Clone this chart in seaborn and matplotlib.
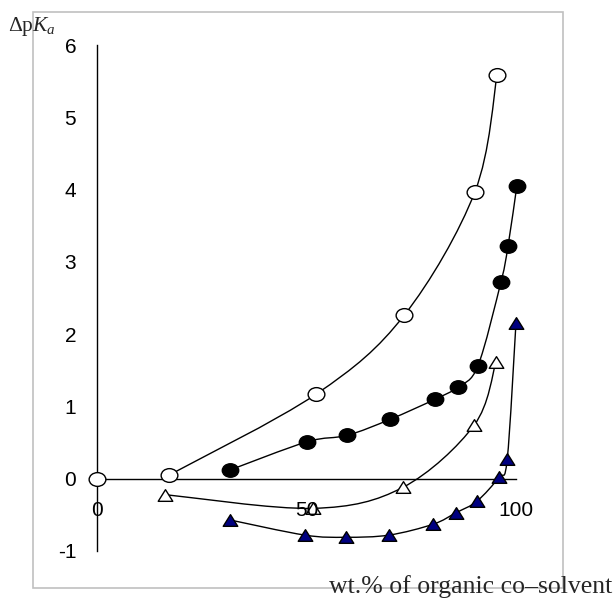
import matplotlib
matplotlib.use("Agg")
import matplotlib.pyplot as plt
from matplotlib.path import Path
from matplotlib.patches import PathPatch, Rectangle
from matplotlib.transforms import Affine2D
import numpy as np
import pandas as pd
import seaborn as sns

# ---- data ----
open_circle_x = [0, 17.2, 52.3, 73.3, 90.2, 95.5]
open_circle_y = [0.0, 0.05, 1.17, 2.26, 3.97, 5.59]

filled_circle_x = [31.7, 50.1, 59.7, 69.9, 80.7, 86.2, 90.9, 96.4, 98.1, 100.2]
filled_circle_y = [0.12, 0.51, 0.60, 0.82, 1.10, 1.27, 1.56, 2.72, 3.22, 4.05]

open_tri_x = [16.2, 51.6, 73.0, 90.0, 95.2]
open_tri_y = [-0.22, -0.41, -0.12, 0.74, 1.61]

filled_tri_x = [31.7, 49.6, 59.4, 69.7, 80.2, 85.7, 90.7, 95.9, 97.9, 100.0]
filled_tri_y = [-0.57, -0.78, -0.81, -0.78, -0.63, -0.47, -0.31, 0.02, 0.27, 2.16]

x_ticks = [0, 50, 100]
x_tick_labels = ["0", "50", "100"]
y_ticks = [-1, 0, 1, 2, 3, 4, 5, 6]
y_tick_labels = ["-1", "0", "1", "2", "3", "4", "5", "6"]

sns.set_style("white")
plt.rcParams["font.family"] = ["Liberation Sans", "DejaVu Sans"]
plt.rcParams["mathtext.fontset"] = "custom"
plt.rcParams["mathtext.rm"] = "Liberation Serif"
plt.rcParams["mathtext.it"] = "Liberation Serif:italic"

fig = plt.figure(figsize=(6.14, 5.98), dpi=100)
fig.patch.set_facecolor("white")
# outer chart-area border
fig.patches.append(Rectangle((33 / 614, 1 - 588 / 598), (563 - 33) / 614, (588 - 12) / 598,
                             transform=fig.transFigure, fill=False, edgecolor="#c0c0c0",
                             linewidth=1.2, zorder=0))

ax = fig.add_axes([97 / 614, 1 - 551 / 598, (516 - 97) / 614, (551 - 45) / 598])
ax.set_facecolor("none")


def smooth_path(xs, ys):
    """Excel-style smoothed line (Catmull-Rom as cubic Bezier segments) through the data."""
    pts = np.column_stack([xs, ys]).astype(float)
    n = len(pts)
    verts = [tuple(pts[0])]
    codes = [Path.MOVETO]
    for i in range(n - 1):
        p0 = pts[i - 1] if i > 0 else pts[i]
        p1 = pts[i]
        p2 = pts[i + 1]
        p3 = pts[i + 2] if i + 2 < n else pts[i + 1]
        c1 = p1 + (p2 - p0) / 6.0
        c2 = p2 - (p3 - p1) / 6.0
        verts += [tuple(c1), tuple(c2), tuple(p2)]
        codes += [Path.CURVE4, Path.CURVE4, Path.CURVE4]
    return Path(verts, codes)


curves = [
    (open_circle_x[1:], open_circle_y[1:]),
    (filled_circle_x, filled_circle_y),
    (open_tri_x, open_tri_y),
    (filled_tri_x, filled_tri_y),
]
for cx, cy in curves:
    ax.add_patch(PathPatch(smooth_path(cx, cy), fill=False, edgecolor="black",
                           linewidth=1.0, clip_on=False, zorder=2))

# slightly flattened marker shapes, as in the reference
ellipse = Path.unit_circle().transformed(Affine2D().scale(1.0, 0.82))
flat_tri = Path([(0, 0.8), (-1, -0.8), (1, -0.8), (0, 0.8)],
                [Path.MOVETO, Path.LINETO, Path.LINETO, Path.CLOSEPOLY])

df_oc = pd.DataFrame({"x": open_circle_x, "y": open_circle_y})
df_fc = pd.DataFrame({"x": filled_circle_x, "y": filled_circle_y})
df_ot = pd.DataFrame({"x": open_tri_x, "y": open_tri_y})
df_ft = pd.DataFrame({"x": filled_tri_x, "y": filled_tri_y})

common = dict(ax=ax, legend=False, clip_on=False, zorder=4)
sns.scatterplot(data=df_oc, x="x", y="y", marker=ellipse, s=145, color="white",
                edgecolor="black", linewidth=1.0, **common)
sns.scatterplot(data=df_fc, x="x", y="y", marker=ellipse, s=140, color="black",
                edgecolor="black", linewidth=1.0, **common)
sns.scatterplot(data=df_ot, x="x", y="y", marker=flat_tri, s=110, color="white",
                edgecolor="black", linewidth=1.0, **common)
sns.scatterplot(data=df_ft, x="x", y="y", marker=flat_tri, s=110, color="#000080",
                edgecolor="black", linewidth=1.0, **common)

ax.set_xlim(0, 100)
ax.set_ylim(-1, 6)
ax.spines["top"].set_visible(False)
ax.spines["right"].set_visible(False)
ax.spines["bottom"].set_position(("data", 0))
for sp in ("left", "bottom"):
    ax.spines[sp].set_color("black")
    ax.spines[sp].set_linewidth(1.0)
    ax.spines[sp].set_zorder(1)

ax.set_xticks(x_ticks)
ax.set_xticklabels(x_tick_labels)
ax.set_yticks(y_ticks)
ax.set_yticklabels(y_tick_labels)
ax.tick_params(axis="x", direction="out", length=4, width=1.0, pad=12, labelsize=15, colors="black")
ax.tick_params(axis="y", direction="out", length=6, width=1.0, pad=9, labelsize=15, colors="black")
ax.xaxis.set_zorder(5)
ax.set_xlabel("")
ax.set_ylabel("")

fig.text(8 / 614, 1 - 31 / 598, r"$\Delta\mathrm{p}K_a$", fontsize=15.5, ha="left", va="baseline")
fig.text(612 / 614, 1 - 593 / 598, "wt.% of organic co\u2013solvent", fontsize=18.5,
         family=["Liberation Serif", "DejaVu Serif"], ha="right", va="baseline")

fig.savefig("out.png", dpi=100, facecolor="white")
